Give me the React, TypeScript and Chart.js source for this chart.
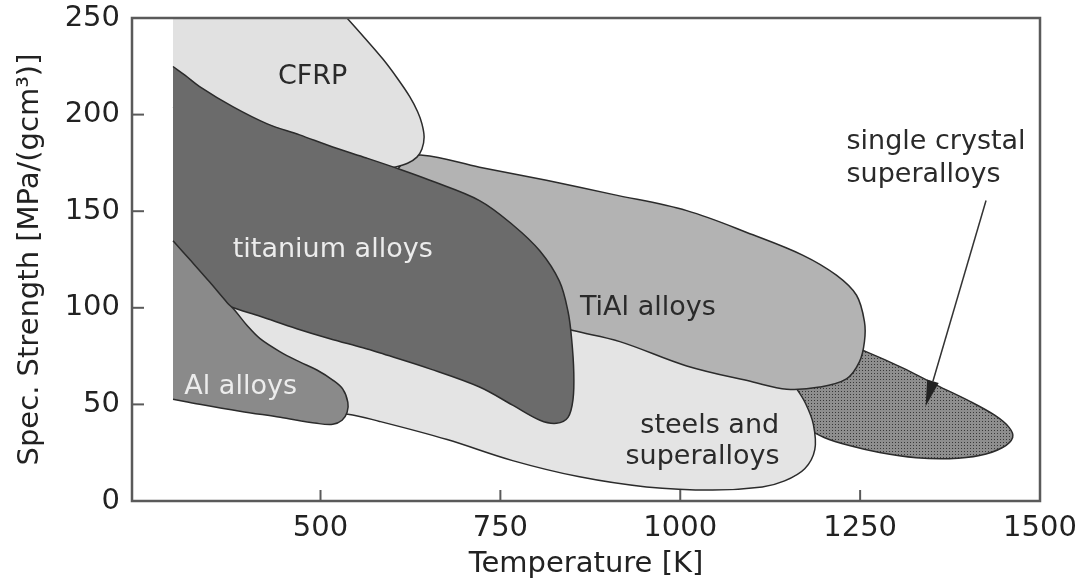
import React, { useEffect, useRef } from 'react';
import { Chart, registerables } from 'chart.js';

Chart.register(...registerables);

// ---- axis ticks ----
const xTickValues = [500, 750, 1000, 1250, 1500];
const yTickValues = [0, 50, 100, 150, 200, 250];

// ---- material regions (temperature K, specific strength MPa/(g cm^-3)) ----
const cfrpTemp = [295, 470, 496, 538, 563, 587, 607, 624, 635, 641, 644, 641, 634, 621, 603, 582, 513, 402, 295];
const cfrpStrength = [275, 275, 266.7, 249.5, 239.0, 228.6, 218.7, 209.3, 201.5, 195.2, 188.4, 182.2, 178.0, 174.8, 172.8, 171.7, 175.0, 188.4, 204.0];

const titaniumTemp = [295, 332, 363, 374, 416, 467, 513, 559, 582, 652, 721, 767, 805, 828, 844, 851, 852, 849, 844, 832, 805, 767, 721, 652, 610, 564, 517, 471, 426, 378, 332, 312, 295];
const titaniumStrength = [104.9, 104.9, 103.3, 100.7, 95.6, 89.2, 84.0, 79.3, 76.7, 68.4, 59.0, 49.6, 41.8, 40.2, 43.3, 52.7, 66.8, 84.0, 98.1, 113.8, 129.4, 143.0, 155.5, 166.0, 171.7, 177.5, 183.2, 189.5, 195.2, 204.1, 214.5, 220.3, 224.9];

const alTemp = [295, 332, 388, 444, 495, 517, 530, 537, 538, 531, 517, 495, 471, 444, 416, 398, 381, 370, 346, 319, 295];
const alStrength = [52.7, 50.1, 46.5, 43.3, 40.2, 39.7, 41.8, 45.9, 51.1, 57.9, 62.6, 67.8, 72.0, 77.2, 84.0, 90.8, 98.6, 102.8, 113.3, 124.7, 134.7];

const tialTemp = [596, 617, 642, 721, 814, 906, 1009, 1101, 1170, 1217, 1245, 1256, 1256, 1249, 1231, 1194, 1148, 1101, 1009, 916, 851, 777, 680, 610, 596];
const tialStrength = [164.9, 175.9, 179.0, 172.8, 166.0, 158.7, 150.3, 137.8, 127.3, 116.9, 106.5, 92.9, 82.5, 72.0, 63.2, 59.0, 57.9, 61.6, 69.9, 82.5, 88.2, 95.5, 110.1, 131.0, 151.9];

const steelsTemp = [332, 471, 538, 582, 676, 767, 860, 953, 1045, 1114, 1145, 1173, 1187, 1185, 1174, 1162, 1145, 1027, 916, 832, 680, 569, 471, 402, 332];
const steelsStrength = [55.3, 46.5, 44.9, 41.2, 31.8, 20.9, 12.5, 7.3, 5.7, 7.3, 10.4, 16.7, 26.6, 39.7, 50.6, 57.9, 65.8, 76.2, 86.6, 89.2, 89.2, 89.2, 95.5, 104.9, 110.1];

const scTemp = [1228, 1259, 1309, 1356, 1402, 1437, 1457, 1462, 1448, 1416, 1374, 1328, 1277, 1235, 1200, 1180, 1165, 1160, 1196];
const scStrength = [81.4, 77.2, 68.9, 60.0, 51.7, 44.4, 38.1, 32.9, 27.7, 23.5, 21.9, 22.4, 25.1, 28.7, 32.9, 37.1, 45.0, 60.0, 67.3];

// ---- annotations ----
const labelText = ['CFRP', 'titanium alloys', 'Al alloys', 'TiAl alloys', 'steels and', 'superalloys', 'single crystal', 'superalloys'];
const labelTemp = [489, 517, 389, 955, 1041, 1031, 1231, 1231];
const labelStrength = [219.7, 130.0, 59.0, 99.7, 38.6, 23.0, 185.8, 168.6];
const labelLight = [false, true, true, false, false, false, false, false];
const labelLeft = [false, false, false, false, false, false, true, true];

const arrowTemp = [1425, 1341];
const arrowStrength = [155.5, 49.1];

const FONT = '"DejaVu Sans", sans-serif';

const zip = (xs: number[], ys: number[]) => xs.map((x, i) => ({ x, y: ys[i] }));

function blob(label: string, xs: number[], ys: number[], fill: any, order: number) {
  return {
    label,
    data: zip(xs, ys),
    showLine: true,
    fill: 'shape',
    backgroundColor: fill,
    borderColor: '#2b2b2b',
    borderWidth: 1.5,
    pointRadius: 0,
    pointHoverRadius: 0,
    tension: 0.35,
    order,
  };
}

const overlay = {
  id: 'overlay',
  afterDatasetsDraw(chart: any) {
    const { ctx, chartArea: a, scales } = chart;
    const x = scales.x;
    const y = scales.y;
    ctx.save();
    // labels
    ctx.font = `27px ${FONT}`;
    ctx.textBaseline = 'middle';
    labelText.forEach((t, i) => {
      ctx.fillStyle = labelLight[i] ? '#ececec' : '#2a2a2a';
      ctx.textAlign = labelLeft[i] ? 'left' : 'center';
      ctx.fillText(t, x.getPixelForValue(labelTemp[i]), y.getPixelForValue(labelStrength[i]));
    });
    // arrow
    const x0 = x.getPixelForValue(arrowTemp[0]);
    const y0 = y.getPixelForValue(arrowStrength[0]);
    const x1 = x.getPixelForValue(arrowTemp[1]);
    const y1 = y.getPixelForValue(arrowStrength[1]);
    const ang = Math.atan2(y1 - y0, x1 - x0);
    const headLen = 26;
    const headW = 6;
    const bx = x1 - headLen * Math.cos(ang);
    const by = y1 - headLen * Math.sin(ang);
    ctx.strokeStyle = '#333';
    ctx.fillStyle = '#222';
    ctx.lineWidth = 1.5;
    ctx.beginPath();
    ctx.moveTo(x0, y0);
    ctx.lineTo(bx, by);
    ctx.stroke();
    ctx.beginPath();
    ctx.moveTo(x1, y1);
    ctx.lineTo(bx + headW * Math.sin(ang), by - headW * Math.cos(ang));
    ctx.lineTo(bx - headW * Math.sin(ang), by + headW * Math.cos(ang));
    ctx.closePath();
    ctx.fill();
    // frame
    ctx.strokeStyle = '#5a5a5a';
    ctx.lineWidth = 2.5;
    ctx.strokeRect(a.left, a.top, a.right - a.left, a.bottom - a.top);
    // inward ticks
    ctx.lineWidth = 2;
    xTickValues.forEach((v) => {
      const px = x.getPixelForValue(v);
      ctx.beginPath();
      ctx.moveTo(px, a.bottom);
      ctx.lineTo(px, a.bottom - 11);
      ctx.stroke();
    });
    yTickValues.forEach((v) => {
      const py = y.getPixelForValue(v);
      ctx.beginPath();
      ctx.moveTo(a.left, py);
      ctx.lineTo(a.left + 12, py);
      ctx.stroke();
    });
    ctx.restore();
  },
};

export default function App() {
  const ref = useRef<HTMLCanvasElement>(null);

  useEffect(() => {
    const canvas = ref.current;
    if (!canvas) return;
    const c2d = canvas.getContext('2d');
    const pc = document.createElement('canvas');
    pc.width = 3;
    pc.height = 3;
    const pctx = pc.getContext('2d')!;
    pctx.fillStyle = '#8e8e8e';
    pctx.fillRect(0, 0, 3, 3);
    pctx.fillStyle = '#383838';
    pctx.fillRect(1, 1, 1, 1);
    const pattern = c2d ? c2d.createPattern(pc, 'repeat') : '#888888';

    Chart.defaults.font.family = FONT;

    const datasets = [
      blob('Al alloys', alTemp, alStrength, '#8a8a8a', 0),
      blob('titanium alloys', titaniumTemp, titaniumStrength, '#6b6b6b', 1),
      blob('CFRP', cfrpTemp, cfrpStrength, '#e1e1e1', 2),
      blob('TiAl alloys', tialTemp, tialStrength, '#b3b3b3', 3),
      blob('steels and superalloys', steelsTemp, steelsStrength, '#e4e4e4', 4),
      blob('single crystal superalloys', scTemp, scStrength, pattern, 5),
    ];

    const tickFont = { size: 29, family: FONT };

    const chart = new Chart(canvas, {
      type: 'scatter',
      data: { datasets } as any,
      options: {
        responsive: false,
        animation: false,
        devicePixelRatio: 1,
        layout: { padding: { left: 0, right: 35, top: 18, bottom: 0 } },
        plugins: {
          legend: { display: false },
          tooltip: { enabled: false },
        },
        events: [],
        scales: {
          x: {
            type: 'linear',
            min: 238,
            max: 1500,
            grid: { display: false, drawTicks: false },
            border: { display: false },
            ticks: {
              color: '#222',
              font: tickFont,
              padding: 10,
              maxRotation: 0,
              autoSkip: false,
              callback: (v: any) => String(v),
            },
            afterBuildTicks: (s: any) => {
              s.ticks = xTickValues.map((v) => ({ value: v }));
            },
            afterFit: (s: any) => {
              s.height = 86;
              s.paddingLeft = 0;
              s.paddingRight = 0;
            },
            title: {
              display: true,
              text: 'Temperature [K]',
              color: '#222',
              font: tickFont,
              padding: { top: 0, bottom: 5 },
            },
          },
          y: {
            type: 'linear',
            min: 0,
            max: 250,
            grid: { display: false, drawTicks: false },
            border: { display: false },
            ticks: {
              color: '#222',
              font: tickFont,
              padding: 12,
              autoSkip: false,
              callback: (v: any) => String(v),
            },
            afterBuildTicks: (s: any) => {
              s.ticks = yTickValues.map((v) => ({ value: v }));
            },
            afterFit: (s: any) => {
              s.width = 132;
              s.paddingTop = 0;
              s.paddingBottom = 0;
            },
            title: {
              display: true,
              text: 'Spec. Strength [MPa/(gcm³)]',
              color: '#222',
              font: tickFont,
              padding: { top: 13, bottom: 0 },
            },
          },
        },
      } as any,
      plugins: [overlay],
    });

    return () => chart.destroy();
  }, []);

  return (
    <div style={{ position: 'fixed', left: 0, top: 0, width: 1075, height: 587, background: '#fff' }}>
      <canvas ref={ref} width={1075} height={587} style={{ display: 'block' }} />
    </div>
  );
}
